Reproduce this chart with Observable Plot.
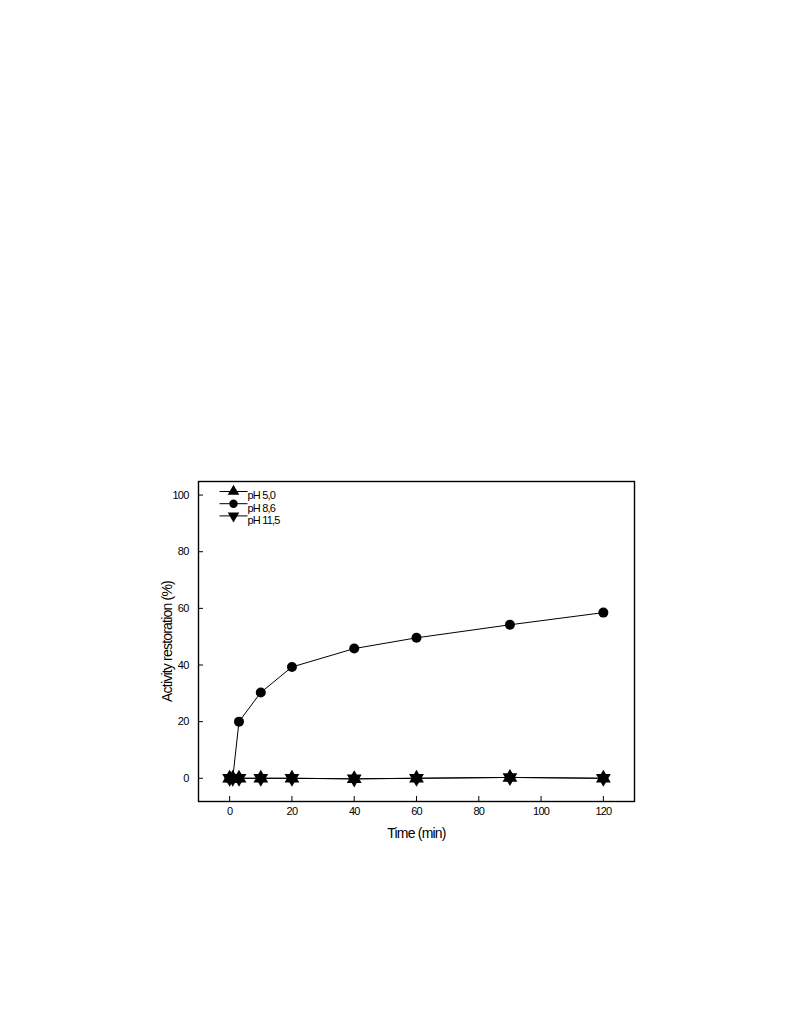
<!DOCTYPE html>
<html><head><meta charset="utf-8">
<script src="https://cdn.jsdelivr.net/npm/d3@7"></script>
<script src="https://cdn.jsdelivr.net/npm/@observablehq/plot@0.6"></script>
<style>body{margin:0;background:#fff}svg{display:block}</style>
</head><body><div id="chart"></div>
<script>
const times = [0, 1, 3, 10, 20, 40, 60, 90, 120];
const ph50 = [0, 0, 0, 0, 0, -0.2, 0, 0.3, 0];
const ph86 = [0, 0, 20, 30.3, 39.3, 45.8, 49.6, 54.2, 58.5];
const ph115 = [0, 0, 0, 0, 0, -0.2, 0, 0.3, 0];
const seriesNames = ["pH 5,0", "pH 8,6", "pH 11,5"];
const xTicks = [0, 20, 40, 60, 80, 100, 120];
const yTicks = [0, 20, 40, 60, 80, 100];

const rows = (vals, s) => times.map((t, i) => ({t, v: vals[i], s}));
const d50 = rows(ph50, seriesNames[0]);
const d86 = rows(ph86, seriesNames[1]);
const d115 = rows(ph115, seriesNames[2]);

const lineSym = {draw(ctx){ctx.moveTo(-14,0); ctx.lineTo(14,0);}};

const legendMarks = [];
const legendSyms = [{symbol:"triangle", rotate:0, r:4.3}, {symbol:"circle", rotate:0, r:4.2}, {symbol:"triangle", rotate:180, r:4.3}];
seriesNames.forEach((name, i) => {
  const dy = 10 + i * 12.2;
  legendMarks.push(Plot.dot([name], {frameAnchor:"top-left", dx:35, dy, symbol:lineSym, stroke:"#000", strokeWidth:1, fill:"none", r:10}));
  legendMarks.push(Plot.dot([name], {frameAnchor:"top-left", dx:35, dy, symbol:legendSyms[i].symbol, rotate:legendSyms[i].rotate, fill:"#000", stroke:"none", r:legendSyms[i].r}));
  legendMarks.push(Plot.text([name], {frameAnchor:"top-left", dx:49, dy, text:d=>d, textAnchor:"start", fontSize:11, fill:"#000"}));
});

const chart = Plot.plot({
  width: 793, height: 1011,
  marginLeft: 198, marginRight: 159, marginTop: 481, marginBottom: 210,
  style: {fontFamily: "'Liberation Sans', Arial, sans-serif", fontSize: "11px", color:"#000", background:"#fff", letterSpacing:"-0.8px"},
  x: {domain: [-10, 130]},
  y: {domain: [-8.2, 104.8]},
  marks: [
    Plot.frame({stroke:"#000", strokeWidth:1.4}),
    Plot.axisX({ticks: xTicks, tickSize: -5, tickPadding: 11, tickFormat: d=>String(d), label: null, fontSize: 11}),
    Plot.axisX({ticks: [], label: "Time (min)", labelAnchor:"center", labelArrow:"none", labelOffset: 36, fontSize: 14}),
    Plot.axisY({ticks: yTicks, tickSize: -5, tickPadding: 15, tickFormat: d=>String(d), label: null, fontSize: 11}),
    Plot.axisY({ticks: [], label: "Activity restoration (%)", labelAnchor:"center", labelArrow:"none", labelOffset: 36, fontSize: 14}),
    Plot.line(d86, {x:"t", y:"v", stroke:"#000", strokeWidth:1}),
    Plot.line(d50, {x:"t", y:"v", stroke:"#000", strokeWidth:1}),
    Plot.line(d115, {x:"t", y:"v", stroke:"#000", strokeWidth:1}),
    Plot.dot(d86, {x:"t", y:"v", symbol:"circle", r:5, fill:"#000"}),
    Plot.dot(d50, {x:"t", y:"v", symbol:"triangle", r:5.5, fill:"#000"}),
    Plot.dot(d115, {x:"t", y:"v", symbol:"triangle", rotate:180, r:5.5, fill:"#000"}),
    ...legendMarks
  ]
});
document.getElementById("chart").appendChild(chart);
</script></body></html>
